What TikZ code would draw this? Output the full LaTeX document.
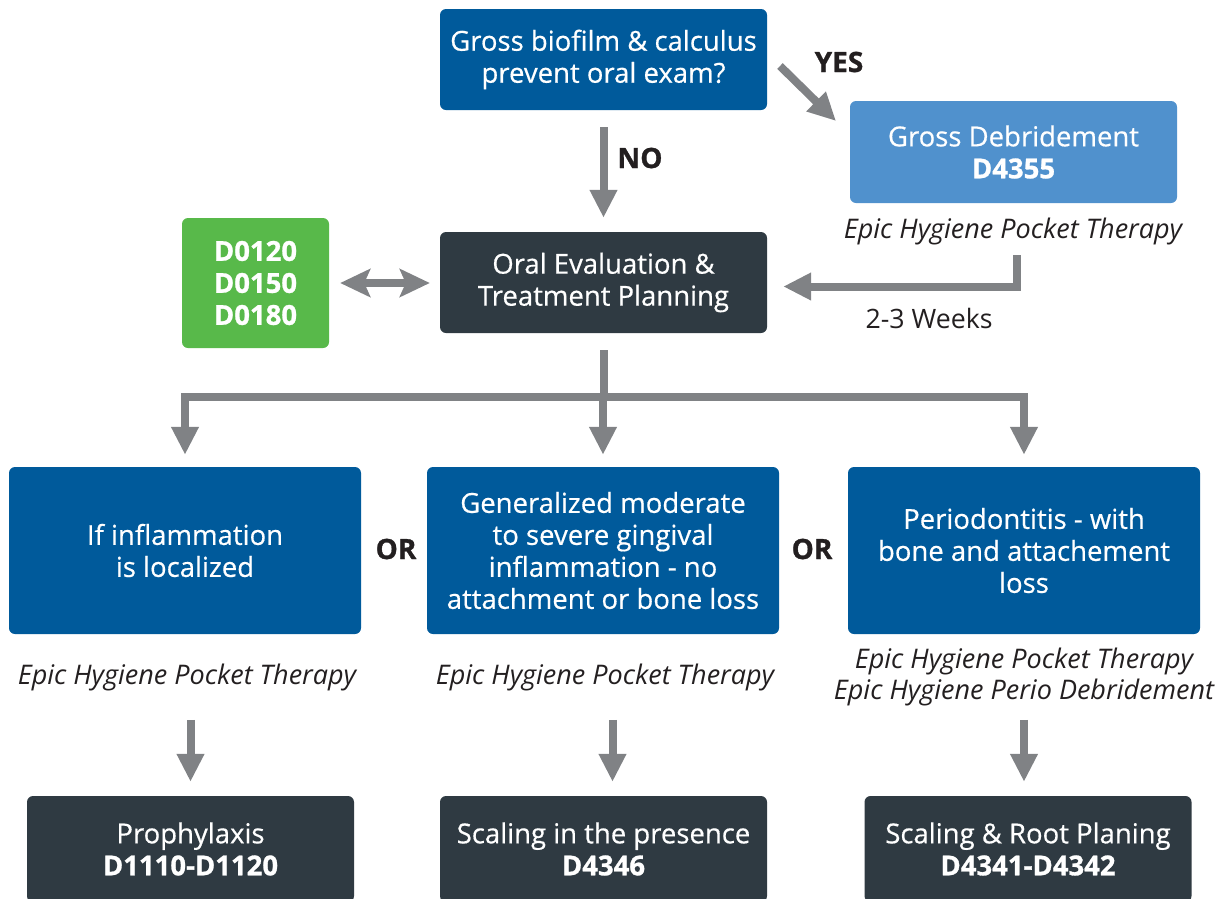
\documentclass[tikz,border=0pt]{standalone}
\usepackage{fontspec}
\setmainfont{Open Sans}[BoldFeatures={FakeBold=1}]
\newfontfamily\caixafont{Open Sans}[FakeBold=0.5, BoldFeatures={FakeBold=1}]
\usetikzlibrary{arrows.meta,
                    calc,
                    positioning}
\definecolor{azul}{RGB}{0,90,155}
\definecolor{azulclaro}{RGB}{80,145,205}
\definecolor{escuro}{RGB}{47,58,66}
\definecolor{verde}{RGB}{88,185,74}
\definecolor{cinza}{RGB}{128,130,133}
\definecolor{texto}{RGB}{35,31,32}
\tikzset{
caixa/.style = {rounded corners=6pt, text=white, align=center, inner sep=0pt,
    font=\caixafont\fontsize{27.5}{32}\selectfont}
                }
\tikzset{
seta/.style = {line width=8pt, draw=cinza, -{Triangle[length=28pt,width=26pt]}},
setadupla/.style = {line width=8pt, draw=cinza, {Stealth[length=30pt,width=28pt,inset=6pt]}-{Stealth[length=30pt,width=28pt,inset=6pt]}},
linha/.style = {line width=8pt, draw=cinza}
         }
\tikzset{
rotulo/.style = {text=texto, align=center, font=\fontsize{27}{31}\selectfont\itshape},
escolha/.style = {text=texto, font=\fontsize{28}{30}\selectfont\bfseries}
         }

\begin{document}
\begin{tikzpicture}[x=1pt,y=-1pt]
        \useasboundingbox (0,0) rectangle (1226,898);
        \clip (0,0) rectangle (1226,898);

        % caixas de cima
        \node[caixa, fill=azul, minimum width=327pt, minimum height=101pt] (topo) at (603.5,59.5)
            {Gross biofilm \& calculus\\prevent oral exam?};
        \node[caixa, fill=azulclaro, minimum width=327pt, minimum height=102pt] (debr) at (1013.5,152)
            {Gross Debridement\\\textbf{D4355}};
        \node[caixa, fill=escuro, minimum width=327pt, minimum height=101pt] (oral) at (603.5,282.5)
            {Oral Evaluation \&\\Treatment Planning};
        \node[caixa, fill=verde, minimum width=147pt, minimum height=130pt, font=\caixafont\fontsize{27.5}{32}\selectfont\bfseries] (codigos) at (255.5,283)
            {D0120\\D0150\\D0180};

        \node[rotulo] (rotdebr) at (1013,231) {Epic Hygiene Pocket Therapy};
        \node[font=\fontsize{26.7}{30}\selectfont, text=texto] (semanas) at (929,318) {2-3 Weeks};
        \node[escolha] (sim) at (839,62) {YES};
        \node[escolha] (nao) at (640,158) {NO};

        % tres caminhos
        \node[caixa, fill=azul, minimum width=352pt, minimum height=167pt] (esq) at (185,550.5)
            {If inflammation\\is localized};
        \node[caixa, fill=azul, minimum width=352pt, minimum height=167pt] (meio) at (603,550.5)
            {Generalized moderate\\to severe gingival\\inflammation - no\\attachment or bone loss};
        \node[caixa, fill=azul, minimum width=352pt, minimum height=167pt] (dir) at (1024,550.5)
            {Periodontitis - with\\bone and attachement\\loss};
        \node[escolha] (ou1) at (396,549) {OR};
        \node[escolha] (ou2) at (812,549) {OR};

        \node[rotulo] (rot1) at (187,677) {Epic Hygiene Pocket Therapy};
        \node[rotulo] (rot2) at (605,677) {Epic Hygiene Pocket Therapy};
        \node[rotulo] (rot3) at (1024,677) {Epic Hygiene Pocket Therapy\\Epic Hygiene Perio Debridement};

        % caixas de baixo
        \node[caixa, fill=escuro, minimum width=327pt, minimum height=106pt] (b1) at (190.5,849)
            {Prophylaxis\\\textbf{D1110-D1120}};
        \node[caixa, fill=escuro, minimum width=327pt, minimum height=106pt] (b2) at (603.5,849)
            {Scaling in the presence\\\textbf{D4346}};
        \node[caixa, fill=escuro, minimum width=327pt, minimum height=106pt] (b3) at (1028,849)
            {Scaling \& Root Planing\\\textbf{D4341-D4342}};

        % setas
        \coordinate (sim1) at (780,66);
        \coordinate (sim2) at (836,121);
        \draw[seta] (sim1) -- (sim2);
        \draw[seta, shorten <=17pt, shorten >=14pt] (topo.south) -- (oral.north);
        \draw[setadupla, shorten <=11pt, shorten >=10pt] (codigos.east) -- (codigos.east -| oral.west);
        \coordinate (volta) at (1017,255);
        \draw[seta] (volta) |- ([xshift=16pt,yshift=-4pt]oral.east);

        \coordinate (ramo) at (oral.south |- 0,397);
        \draw[linha, shorten <=17pt] (oral.south) -- (ramo);
        \foreach \n in {esq,meio,dir}
            \draw[seta] (ramo) -| ([yshift=12pt]\n.north);

        \draw[seta] ([yshift=76pt]b1.north) -- ([yshift=14pt]b1.north);
        \draw[seta] ([xshift=9pt,yshift=76pt]b2.north) -- ([xshift=9pt,yshift=14pt]b2.north);
        \draw[seta] ([xshift=-4pt,yshift=76pt]b3.north) -- ([xshift=-4pt,yshift=14pt]b3.north);
    \end{tikzpicture}
\end{document}
